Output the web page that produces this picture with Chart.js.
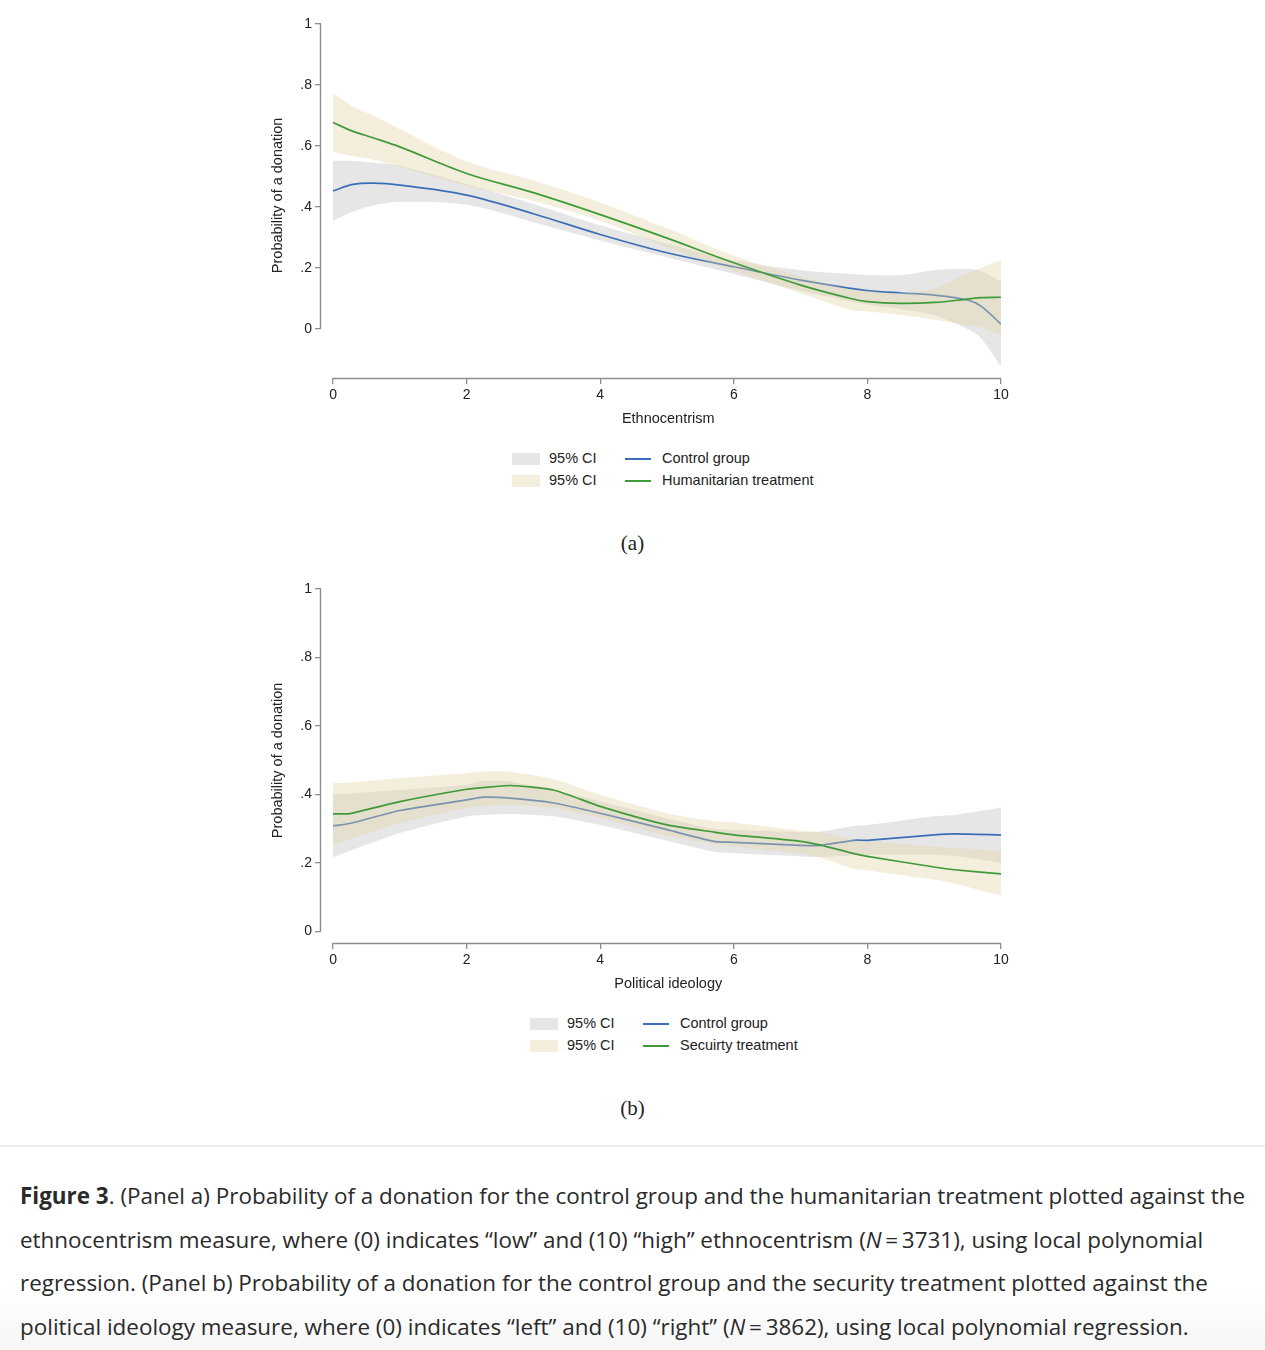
<!DOCTYPE html>
<html>
<head>
<meta charset="utf-8">
<script src="https://cdn.jsdelivr.net/npm/chart.js@4.4.1/dist/chart.umd.min.js"></script>
<style>
  html, body { margin: 0; padding: 0; background: #fff; }
  #page { position: relative; width: 1265px; height: 1350px; overflow: hidden; }
  canvas { position: absolute; left: 0; }
  .legend { position: absolute; font-family: 'Liberation Sans', Arial, sans-serif; font-size: 14.5px; color: #222; }
  .legend .row { position: absolute; left: 0; height: 22px; white-space: nowrap; }
  .legend .sw { position: absolute; top: 5px; width: 28px; height: 12px; }
  .legend .ln { position: absolute; top: 10px; width: 26px; height: 2px; }
  .legend span.t { position: absolute; top: 2px; }
  .sub { position: absolute; width: 1265px; text-align: center; font-family: 'Liberation Serif', 'DejaVu Serif', serif; font-size: 21px; color: #222; }
  #caption { position: absolute; left: 0; top: 1145px; width: 1265px; height: 205px; border-top: 2px solid #ececec;
    font-family: 'Open Sans', sans-serif; font-size: 22.45px; line-height: 43.5px; color: #2a2a2a; box-sizing: border-box; padding: 27px 0 0 20px;
    background: linear-gradient(to bottom, rgba(0,0,0,0) 70%, rgba(0,0,0,0.035) 100%); }
  #caption b { font-weight: 700; }
</style>
</head>
<body>
<div id="page">
  <canvas id="panelA"></canvas>
  <div class="legend" id="legendA"></div>
  <div class="sub" style="top:531px">(a)</div>
  <canvas id="panelB"></canvas>
  <div class="legend" id="legendB"></div>
  <div class="sub" style="top:1096px">(b)</div>
  <div id="caption"><b>Figure 3</b>. (Panel a) Probability of a donation for the control group and the humanitarian treatment plotted against the<br>ethnocentrism measure, where (0) indicates “low” and (10) “high” ethnocentrism (<i>N</i>&thinsp;=&thinsp;3731), using local polynomial<br>regression. (Panel b) Probability of a donation for the control group and the security treatment plotted against the<br>political ideology measure, where (0) indicates “left” and (10) “right” (<i>N</i>&thinsp;=&thinsp;3862), using local polynomial regression.</div>
</div>
<script>
// ---- data, panel a (ethnocentrism) ----
const xA = [0, 0.3, 0.6, 1, 2, 3, 4, 5, 6, 7, 7.75, 8, 8.5, 9, 9.5, 9.7, 10];
const controlA   = [0.453, 0.474, 0.478, 0.472, 0.439, 0.378, 0.31, 0.25, 0.204, 0.16, 0.133, 0.126, 0.118, 0.111, 0.095, 0.075, 0.016];
const controlHiA = [0.552, 0.551, 0.545, 0.535, 0.475, 0.41, 0.34, 0.28, 0.225, 0.193, 0.18, 0.177, 0.177, 0.193, 0.196, 0.19, 0.155];
const controlLoA = [0.355, 0.385, 0.405, 0.417, 0.407, 0.35, 0.29, 0.235, 0.18, 0.125, 0.09, 0.08, 0.065, 0.045, 0.0, -0.03, -0.124];
const humanA     = [0.677, 0.648, 0.627, 0.597, 0.51, 0.447, 0.375, 0.298, 0.217, 0.144, 0.10, 0.09, 0.084, 0.087, 0.098, 0.103, 0.104];
const humanHiA   = [0.774, 0.729, 0.70, 0.655, 0.55, 0.487, 0.415, 0.33, 0.24, 0.172, 0.13, 0.125, 0.117, 0.133, 0.183, 0.2, 0.226];
const humanLoA   = [0.58, 0.566, 0.555, 0.532, 0.47, 0.42, 0.355, 0.268, 0.19, 0.117, 0.062, 0.057, 0.046, 0.03, 0.013, 0.005, -0.02];

// ---- data, panel b (political ideology) ----
const xB = [0, 0.25, 1, 2, 2.25, 2.65, 3.3, 4, 5, 5.7, 6, 7, 7.3, 7.8, 8, 9, 9.3, 10];
const controlB   = [0.308, 0.315, 0.353, 0.384, 0.392, 0.389, 0.375, 0.345, 0.297, 0.263, 0.26, 0.251, 0.251, 0.266, 0.266, 0.282, 0.285, 0.282];
const controlHiB = [0.401, 0.403, 0.413, 0.428, 0.44, 0.437, 0.413, 0.38, 0.33, 0.30, 0.297, 0.29, 0.292, 0.308, 0.31, 0.336, 0.34, 0.362];
const controlLoB = [0.217, 0.235, 0.287, 0.336, 0.34, 0.343, 0.336, 0.311, 0.265, 0.233, 0.228, 0.219, 0.217, 0.222, 0.224, 0.224, 0.22, 0.201];
const securityB   = [0.343, 0.344, 0.379, 0.415, 0.42, 0.426, 0.413, 0.365, 0.311, 0.29, 0.282, 0.263, 0.252, 0.227, 0.219, 0.188, 0.18, 0.168];
const securityHiB = [0.433, 0.435, 0.448, 0.462, 0.467, 0.466, 0.445, 0.399, 0.345, 0.322, 0.318, 0.294, 0.29, 0.266, 0.263, 0.248, 0.244, 0.233];
const securityLoB = [0.253, 0.27, 0.316, 0.36, 0.366, 0.37, 0.36, 0.331, 0.28, 0.255, 0.247, 0.228, 0.215, 0.182, 0.178, 0.151, 0.14, 0.104];

// ---- axes ----
const xTicks = [0, 2, 4, 6, 8, 10];
const yTicks = [0, 0.2, 0.4, 0.6, 0.8, 1];
const yTickLabels = ['0', '.2', '.4', '.6', '.8', '1'];
const yTitle = 'Probability of a donation';
const ciLabel = '95% CI';

const blue = '#3a6fb7';
const green = '#3f9b38';
const grayBand = 'rgba(210,210,210,0.55)';
const beigeBand = 'rgba(225,210,165,0.38)';
const axisColor = '#8e8e8e';
const font = "'Liberation Sans', Arial, sans-serif";

const pts = (xs, ys) => xs.map((x, i) => ({x, y: ys[i]}));

// Stata-style detached axis lines, spanning only the tick range
const axisLines = {
    id: 'axisLines',
    afterDraw(chart) {
        const {ctx, chartArea, scales: {x, y}} = chart;
        ctx.save();
        ctx.strokeStyle = axisColor;
        ctx.lineWidth = 1.4;
        ctx.beginPath();
        ctx.moveTo(chartArea.left - 0.5, y.getPixelForValue(yTicks[0]));
        ctx.lineTo(chartArea.left - 0.5, y.getPixelForValue(yTicks[yTicks.length - 1]));
        ctx.moveTo(x.getPixelForValue(xTicks[0]), chartArea.bottom + 0.5);
        ctx.lineTo(x.getPixelForValue(xTicks[xTicks.length - 1]), chartArea.bottom + 0.5);
        ctx.stroke();
        ctx.restore();
    }
};

function makePanel(id, top, height, pad, xs, series, xTitle, yMin, xMin) {
    const canvas = document.getElementById(id);
    canvas.style.top = top + 'px';
    canvas.style.width = '1265px';
    canvas.style.height = height + 'px';
    const band = (lo, hi, color, order) => [
        {data: pts(xs, lo), borderWidth: 0, pointRadius: 0, fill: false, order: order + 1, tension: series.tension},
        {data: pts(xs, hi), borderWidth: 0, pointRadius: 0, fill: '-1', backgroundColor: color, order: order, tension: series.tension}
    ];
    const line = (ys, color, order) => ({data: pts(xs, ys), borderColor: color, borderWidth: 1.7, pointRadius: 0, fill: false, order, tension: series.tension});
    return new Chart(canvas.getContext('2d'), {
        type: 'line',
        data: {datasets: [
            ...band(series.cLo, series.cHi, grayBand, 5),
            line(series.c, blue, 4),
            ...band(series.tLo, series.tHi, beigeBand, 2),
            line(series.t, green, 1)
        ]},
        options: {
            responsive: false, animation: false, maintainAspectRatio: false,
            layout: {padding: pad},
            plugins: {legend: {display: false}, tooltip: {enabled: false}},
            scales: {
                x: {
                    type: 'linear', min: xMin, max: 10,
                    afterBuildTicks: s => { s.ticks = xTicks.map(v => ({value: v})); },
                    afterFit: s => { s.height = 52; },
                    grid: {drawOnChartArea: false, color: axisColor, lineWidth: 1.3, tickLength: 6},
                    border: {display: false},
                    ticks: {autoSkip: false, maxRotation: 0, padding: 3, color: '#222', font: {family: font, size: 14}, callback: v => String(v)},
                    // leading en spaces nudge the title to centre on the 0–10 span
                    title: {display: true, text: '\u2002\u2002' + xTitle, color: '#222', font: {family: font, size: 14.5}, padding: {top: 4, bottom: 2}}
                },
                y: {
                    type: 'linear', min: yMin, max: 1,
                    afterBuildTicks: s => { s.ticks = yTicks.map(v => ({value: v})); },
                    afterFit: s => { s.width = 56; },
                    grid: {drawOnChartArea: false, color: axisColor, lineWidth: 1.3, tickLength: 6},
                    border: {display: false},
                    ticks: {autoSkip: false, padding: 3, color: '#222', font: {family: font, size: 14}, callback: (v, i) => yTickLabels[i]},
                    title: {display: true, text: '\u2002 ' + yTitle, color: '#222', font: {family: font, size: 14.5}, padding: {top: 4, bottom: 4}}
                }
            }
        },
        plugins: [axisLines]
    });
}

function makeLegend(id, left, top, lineLabels) {
    const el = document.getElementById(id);
    el.style.left = left + 'px';
    el.style.top = top + 'px';
    const bands = [grayBand, beigeBand];
    const lines = [blue, green];
    let html = '';
    lineLabels.forEach((lab, i) => {
        html += '<div class="row" style="top:' + (i * 22) + 'px">' +
            '<div class="sw" style="left:0;background:' + bands[i] + '"></div>' +
            '<span class="t" style="left:37px">' + ciLabel + '</span>' +
            '<div class="ln" style="left:113px;background:' + lines[i] + '"></div>' +
            '<span class="t" style="left:150px">' + lab + '</span></div>';
    });
    el.innerHTML = html;
}

makePanel('panelA', 0, 440, {left: 265, right: 264, top: 24, bottom: 10}, xA,
    {c: controlA, cHi: controlHiA, cLo: controlLoA, t: humanA, tHi: humanHiA, tLo: humanLoA, tension: 0.35},
    'Ethnocentrism', -0.1607, -0.18);
makePanel('panelB', 560, 445, {left: 265, right: 264, top: 29, bottom: 10}, xB,
    {c: controlB, cHi: controlHiB, cLo: controlLoB, t: securityB, tHi: securityHiB, tLo: securityLoB, tension: 0.2},
    'Political ideology', -0.034, -0.18);

makeLegend('legendA', 512, 448, ['Control group', 'Humanitarian treatment']);
makeLegend('legendB', 530, 1013, ['Control group', 'Secuirty treatment']);
</script>
</body>
</html>
